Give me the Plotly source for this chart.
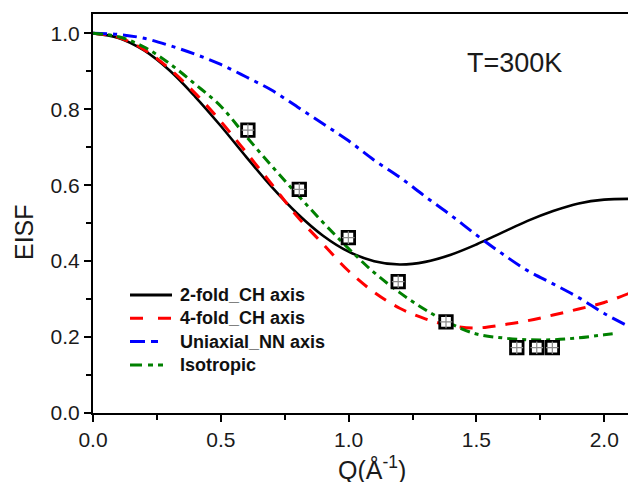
import plotly.graph_objects as go

# ---- data ----
q = [0.0, 0.1, 0.2, 0.3, 0.4, 0.5, 0.6, 0.7, 0.8, 0.9, 1.0, 1.1, 1.2, 1.3, 1.4,
     1.5, 1.6, 1.7, 1.8, 1.9, 2.0, 2.1]
eisf_2fold = [1.0, 0.988, 0.955, 0.902, 0.833, 0.756, 0.674, 0.595, 0.525, 0.467,
              0.425, 0.400, 0.391, 0.398, 0.417, 0.444, 0.475, 0.506, 0.532, 0.552,
              0.562, 0.564]
eisf_4fold = [1.0, 0.989, 0.957, 0.906, 0.842, 0.768, 0.686, 0.602, 0.517, 0.445,
              0.374, 0.318, 0.276, 0.248, 0.230, 0.224, 0.232, 0.243, 0.258, 0.274,
              0.291, 0.316]
eisf_uniaxial = [1.0, 0.997, 0.987, 0.968, 0.945, 0.918, 0.885, 0.850, 0.806, 0.762,
                 0.717, 0.666, 0.621, 0.570, 0.521, 0.469, 0.420, 0.375, 0.340, 0.304,
                 0.262, 0.227]
q_iso = [0.0, 0.1, 0.2, 0.3, 0.4, 0.5, 0.6, 0.7, 0.8, 0.9, 1.0, 1.1, 1.2, 1.3, 1.4,
         1.5, 1.6, 1.7, 1.8, 1.9, 2.0, 2.05]
eisf_iso = [1.0, 0.991, 0.964, 0.920, 0.866, 0.808, 0.728, 0.650, 0.575, 0.502,
            0.433, 0.370, 0.317, 0.272, 0.235, 0.208, 0.198, 0.193, 0.193, 0.198,
            0.206, 0.210]
q_exp = [0.606, 0.807, 0.999, 1.194, 1.381, 1.658, 1.736, 1.797]
eisf_exp = [0.745, 0.589, 0.462, 0.346, 0.240, 0.172, 0.172, 0.172]

series_names = ["2-fold_CH axis", "4-fold_CH axis", "Uniaxial_NN axis", "Isotropic"]
series_colors = ["black", "#ff0000", "#0000ff", "#008000"]
series_dash = ["solid", "13px,10px", "14px,6px,4px,6px", "10px,5px,4px,5px"]
legend_dash = ["solid", "13px,15px", "15px,6px,7px,100px", "12px,6px,5px,5px,5px,100px"]
legend_len = [42, 42, 28, 34]
x_ticks = [0.0, 0.5, 1.0, 1.5, 2.0]
x_ticklabels = ["0.0", "0.5", "1.0", "1.5", "2.0"]
y_ticks = [0.0, 0.2, 0.4, 0.6, 0.8, 1.0]
y_ticklabels = ["0.0", "0.2", "0.4", "0.6", "0.8", "1.0"]

FONT = "Liberation Sans, Arial, sans-serif"
W, H = 628, 482
ML, MR, MT, MB = 93, 0, 14, 69
PW, PH = W - ML - MR, H - MT - MB


def px2paper(px, py):
    return (px - ML) / PW, (H - MB - py) / PH


fig = go.Figure()
curves = [(q, eisf_2fold), (q, eisf_4fold), (q, eisf_uniaxial), (q_iso, eisf_iso)]
for (xs, ys), name, col, dsh in zip(curves, series_names, series_colors, series_dash):
    fig.add_trace(go.Scatter(x=xs, y=ys, mode="lines", name=name, showlegend=False,
                             line=dict(color=col, width=2.6 if dsh == "solid" else 3,
                                       shape="spline", dash=dsh)))
fig.add_trace(go.Scatter(x=q_exp, y=eisf_exp, mode="markers", showlegend=False,
                         marker=dict(symbol="square", size=12.5, color="white",
                                     line=dict(color="black", width=2.8))))
fig.add_trace(go.Scatter(x=q_exp, y=eisf_exp, mode="markers", showlegend=False,
                         marker=dict(symbol="cross-thin-open", size=9, color="#8a8a8a",
                                     line=dict(color="#8a8a8a", width=1.2))))

# manual legend (line samples + bold labels)
shapes = []
annotations = []
for i, (name, col, dsh, ln) in enumerate(zip(series_names, series_colors, legend_dash, legend_len)):
    py = 295 + i * 23.3
    x0, y0 = px2paper(130, py)
    x1, _ = px2paper(130 + ln, py)
    shapes.append(dict(type="line", xref="paper", yref="paper", x0=x0, x1=x1, y0=y0, y1=y0,
                       line=dict(color=col, width=3, dash=dsh)))
    tx, _ = px2paper(178, py)
    annotations.append(dict(text="<b>%s</b>" % name, xref="paper", yref="paper", x=tx, y=y0,
                            xanchor="left", yanchor="middle", showarrow=False,
                            font=dict(size=18, family=FONT, color="#111111")))

ex, ey = px2paper(24, 232)
annotations.append(dict(text="EISF", xref="paper", yref="paper", x=ex, y=ey,
                        textangle=-90, showarrow=False,
                        font=dict(size=25, family=FONT, color="#1a1a1a"),
                        xanchor="center", yanchor="middle"))
qx, qy = px2paper(372, 468)
annotations.append(dict(text="Q(Å<sup>-1</sup>)", xref="paper", yref="paper", x=qx, y=qy,
                        showarrow=False, font=dict(size=25, family=FONT, color="#1a1a1a"),
                        xanchor="center", yanchor="middle"))
tx, ty = px2paper(514, 63)
annotations.append(dict(text="T=300K", xref="paper", yref="paper", x=tx, y=ty,
                        showarrow=False, font=dict(size=27, family=FONT, color="#1a1a1a"),
                        xanchor="center", yanchor="middle"))

fig.update_layout(
    width=W, height=H,
    margin=dict(l=ML, r=MR, t=MT, b=MB),
    paper_bgcolor="white", plot_bgcolor="white",
    font=dict(family=FONT, color="#1a1a1a"),
    showlegend=False,
    shapes=shapes,
    annotations=annotations,
    xaxis=dict(range=[0, 2.093], showgrid=False, zeroline=False,
               showline=True, linecolor="black", linewidth=2, mirror=True,
               ticks="outside", ticklen=7, tickwidth=2, tickcolor="black",
               tickvals=x_ticks, ticktext=x_ticklabels,
               tickfont=dict(size=21, family=FONT, color="#1a1a1a"),
               minor=dict(ticks="outside", ticklen=5, tickwidth=2, tickcolor="black", dtick=0.25)),
    yaxis=dict(range=[0, 1.051], showgrid=False, zeroline=False,
               showline=True, linecolor="black", linewidth=2, mirror=False,
               ticks="outside", ticklen=7, tickwidth=2, tickcolor="black",
               tickvals=y_ticks, ticktext=y_ticklabels,
               tickfont=dict(size=21, family=FONT, color="#1a1a1a"),
               minor=dict(ticks="outside", ticklen=5, tickwidth=2, tickcolor="black", dtick=0.1)),
)

fig.write_html("out.html")
